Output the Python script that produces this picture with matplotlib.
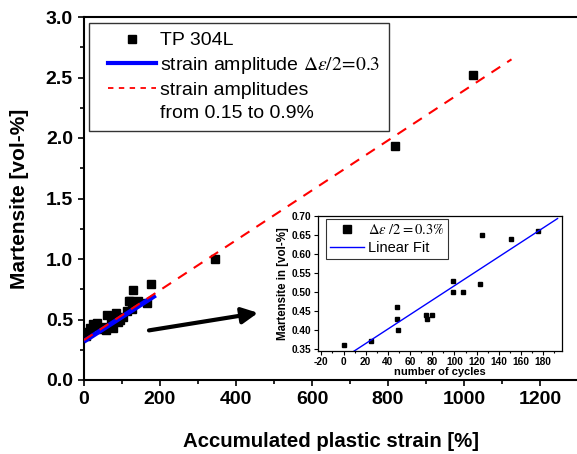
import matplotlib
matplotlib.use('Agg')
import matplotlib.pyplot as plt
from matplotlib.lines import Line2D
from matplotlib.legend_handler import HandlerLine2D
from matplotlib.ticker import MultipleLocator, FormatStrFormatter
import numpy as np

plt.rcParams['font.family'] = ['Liberation Sans', 'DejaVu Sans']
plt.rcParams['mathtext.fontset'] = 'stix'
plt.rcParams['axes.unicode_minus'] = False

# main plot: accumulated plastic strain [%] vs martensite [vol-%]
strain = [4, 10, 17, 24, 30, 35, 45, 52, 57, 61, 70, 75, 83, 90, 96, 102, 112,
          118, 121, 125, 130, 143, 165, 175, 345, 818, 1024]
martensite = [0.36, 0.40, 0.43, 0.46, 0.45, 0.47, 0.42, 0.44, 0.41, 0.54, 0.50,
              0.43, 0.55, 0.48, 0.50, 0.52, 0.57, 0.65, 0.65, 0.59, 0.74, 0.65,
              0.64, 0.79, 1.00, 1.93, 2.52]

# fitted lines
fit03_x = [5, 183]
fit03_y = [0.33, 0.69]
fitall_x = [0, 1125]
fitall_y = [0.33, 2.65]

arrow_from = (171, 0.41)
arrow_to = (458, 0.555)

# inset: number of cycles vs martensite
cycles = [0, 25, 48, 48, 49, 74, 75, 80, 99, 99, 108, 123, 125, 151, 175]
mart_cyc = [0.36, 0.37, 0.46, 0.43, 0.40, 0.44, 0.43, 0.44, 0.53, 0.50, 0.50,
            0.52, 0.65, 0.64, 0.66]
fit_range = [0, 193]

fig = plt.figure(figsize=(5.77, 4.54), dpi=100)
ax = fig.add_axes([84/577, 74/454, 494/577, 363/454])

ax.plot(strain, martensite, 's', color='black', markersize=6, zorder=3)
ax.plot(fit03_x, fit03_y, '-', color='#0000ff', lw=3.5, zorder=4)
ax.plot(fitall_x, fitall_y, '--', color='#ff0000', lw=1.5, dashes=(5, 4), zorder=5)
ax.annotate('', xy=arrow_to, xytext=arrow_from,
            arrowprops=dict(arrowstyle='-|>', lw=3, color='black', mutation_scale=24,
                            shrinkA=0, shrinkB=0))

ax.set_xlim(0, 1300)
ax.set_ylim(0, 3.0)
ax.set_xticks([0, 200, 400, 600, 800, 1000, 1200])
ax.xaxis.set_minor_locator(MultipleLocator(100))
ax.yaxis.set_major_locator(MultipleLocator(0.5))
ax.yaxis.set_minor_locator(MultipleLocator(0.25))
ax.yaxis.set_major_formatter(FormatStrFormatter('%.1f'))
ax.tick_params(which='both', direction='out', width=1.2, labelsize=14)
ax.tick_params(which='major', length=4.5)
ax.tick_params(which='minor', length=3)
for lab in ax.get_xticklabels() + ax.get_yticklabels():
    lab.set_fontweight('bold')
for s in ['left', 'bottom', 'top']:
    ax.spines[s].set_linewidth(1.5)
ax.spines['right'].set_visible(False)
ax.set_xlabel('Accumulated plastic strain [%]', fontsize=14.7, fontweight='bold', labelpad=17)
ax.set_ylabel('Martensite [vol-%]', fontsize=15, fontweight='bold', labelpad=12)

handles = [Line2D([], [], ls='none', marker='s', color='black', markersize=6),
           Line2D([], [], color='#0000ff', lw=3),
           Line2D([], [], color='#ff0000', lw=1.3, ls='--', dashes=(3, 3)),
           Line2D([], [], ls='none')]
labels = ['TP 304L', r'strain amplitude $\Delta\varepsilon/2\!=\!0.3\quad\enspace$',
          'strain amplitudes', 'from 0.15 to 0.9%']
pad_handler = HandlerLine2D(xpad=0.55)
leg = ax.legend(handles, labels, loc='upper left', bbox_to_anchor=(5/494, 1 - 6/363),
                frameon=True, fancybox=False, edgecolor='black', fontsize=14,
                handlelength=3.0, handletextpad=0.2, labelspacing=0.28,
                borderpad=0.45, borderaxespad=0,
                handler_map={Line2D: pad_handler})
leg.get_frame().set_linewidth(1.0)

# inset
ins = fig.add_axes([318/577, 103/454, 244/577, 135/454])
ins.plot(cycles, mart_cyc, 's', color='black', markersize=3.5)
coef = np.polyfit(cycles, mart_cyc, 1)
fx = np.array(fit_range)
ins.plot(fx, np.polyval(coef, fx), '-', color='#0000ff', lw=1.0)
ins.set_xlim(-23, 197)
ins.set_ylim(0.345, 0.70)
ins.xaxis.set_major_locator(MultipleLocator(20))
ins.xaxis.set_minor_locator(MultipleLocator(10))
ins.yaxis.set_major_locator(MultipleLocator(0.05))
ins.yaxis.set_major_formatter(FormatStrFormatter('%.2f'))
ins.tick_params(which='both', direction='out', width=0.8, labelsize=7.3, pad=1.5)
ins.tick_params(which='major', length=3)
ins.tick_params(which='minor', length=1.5)
for lab in ins.get_xticklabels() + ins.get_yticklabels():
    lab.set_fontweight('bold')
for s in ins.spines.values():
    s.set_linewidth(0.9)
ins.set_xlabel('number of cycles', fontsize=8, fontweight='bold', labelpad=0)
ins.set_ylabel('Martensite in [vol-%]', fontsize=8.3, fontweight='bold', labelpad=2)

ih = [Line2D([], [], ls='none', marker='s', color='black', markersize=6),
      Line2D([], [], color='#0000ff', lw=1.0)]
il = [r'$\Delta\varepsilon\ /2 = 0.3\%$', 'Linear Fit']
ileg = ins.legend(ih, il, loc='upper left', bbox_to_anchor=(8/244, 1 - 3/135),
                  frameon=True, fancybox=False, edgecolor='black', fontsize=10.5,
                  handlelength=2.3, handletextpad=0.25, labelspacing=0.25,
                  borderpad=0.3, borderaxespad=0)
ileg.get_frame().set_linewidth(0.8)

fig.savefig('out.png', dpi=100)
